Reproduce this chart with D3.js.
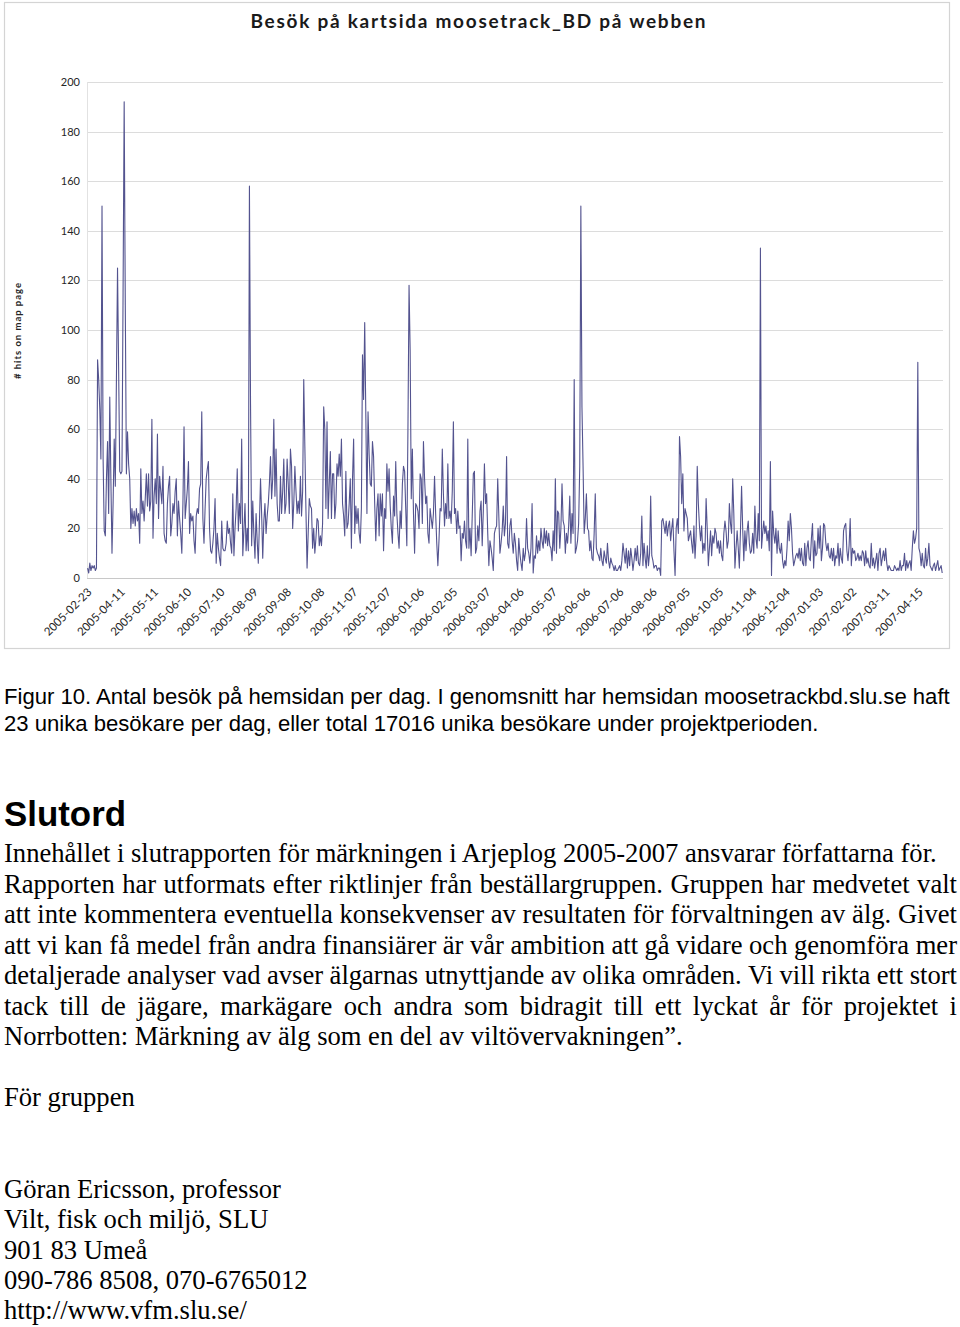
<!DOCTYPE html>
<html><head><meta charset="utf-8">
<script src="https://cdnjs.cloudflare.com/ajax/libs/d3/7.8.5/d3.min.js"></script>
<style>body{margin:0;background:#fff}svg{display:block}</style>
</head><body>
<svg id="c" width="960" height="1327"></svg>
<script>
const xLabels = ["2005-02-23","2005-04-11","2005-05-11","2005-06-10","2005-07-10","2005-08-09","2005-09-08","2005-10-08","2005-11-07","2005-12-07","2006-01-06","2006-02-05","2006-03-07","2006-04-06","2006-05-07","2006-06-06","2006-07-06","2006-08-06","2006-09-05","2006-10-05","2006-11-04","2006-12-04","2007-01-03","2007-02-02","2007-03-11","2007-04-15"];
const labelStep = 30;
const yTicks = [0,20,40,60,80,100,120,140,160,180,200];

const hitsA = [4,2,6,3,5,4,5,3,4,
88,80,68,48,150,48,19,17,40,55,26,
73,40,10,30,56,37,80,125,84,43,
42,43,115,192,110,42,59,46,40,20,
28,22,27,21,28,23,26,14,44,26,
31,23,32,42,29,42,27,31,64,16,
33,40,30,58,24,41,35,30,45,18,
15,14,30,37,41,17,22,30,26,35,
40,17,31,24,18,10,30,61,24,30,
36,47,18,26,23,25,15,10,25,28,
26,36,38,67,24,14,28,40,44,47,
20,11,10,14,20,32,6,18,12,8,
5,23,12,11,11,14,23,18,20,14,
10,34,9,20,28,44,19,30,22,56,
9,19,30,11,20,11,158,70,13,31,
18,8,26,15,6,22,40,26,8,23,
30,18,25,30,38,49,32,40,64,33,
52,30,23,23,41,26,35,48,26,30,
48,38,26,52,45,20,30,45,35,26];

const hitsB = [31,26,41,25,35,80,
53,27,4,18,32,29,
28,12,20,10,16,24,
23,13,17,13,22,69,
60,28,63,24,38,51,
24,42,42,24,30,46,
41,50,41,56,30,25,
17,43,20,22,30,40,
12,40,56,18,29,22,
28,18,14,28,90,
72,103,66,26,67,
50,38,37,55,49,30,
15,28,34,17,34,25,
34,11,28,24,46,35,
44,29,20,14,33,25,
47,26,18,12,27,20,
38,45,43,28,13,
60,118,92,32,52,
26,10,30,29,27,20,
42,40,22,55,40,30,
33,18,14,28,24,20,
26,41,26,14,5,15,
28,27,52,34,21,30,
24,46,24,27,22,35,
63,26,28,18,27,20,
21,7,18,16,23,15,
12,56,12,20,9,25,
42,43,10,12,21,15,
27,31,13,27,46,30,
34,18,5,15,12,8,
3,18,20,21,40,25,
10,14,19,29,17,22,
49,14];

const hitsC = [12,21,24,15,10,18,
14,7,3,16,10,6,
3,12,7,10,24,12,
10,6,12,30,2,9,
8,17,10,15,11,20,
15,12,20,14,19,13,
18,13,12,7,19,11,
40,10,27,26,12,20,
38,23,21,10,18,14,
21,33,14,26,18,80,
10,12,15,22,45,150,
69,45,18,24,34,
20,19,11,15,8,
7,18,34,12,10,9,
7,12,7,5,11,8,
6,14,7,4,8,6,
5,3,5,3,3,4,
5,3,7,14,10,6,
12,4,11,5,12,8,
3,7,12,7,13,6,
5,10,25,5,14,8,
4,13,5,10,33,9,
7,4,5,5,3,4,
4,1,23,24,21,18,
23,17,21,23,15,20,
24,11,1,20,24,18,
57,49,30,42,19,28,
26,24,15,17,19,14,
10,21,8,17,45,30,
21,15,21,10,14,11,
32,20,5,12,19,9,
17,14,20,18,12,15];

const hitsD = [10,15,9,7,18,23,19,12,15,30,22,
18,40,26,4,12,19,
12,4,19,37,20,7,
19,11,19,23,14,10,
11,18,10,29,16,12,
26,15,133,12,18,23,
18,21,15,19,11,
47,1,27,18,14,20,
10,19,12,10,14,7,
4,7,5,12,23,15,
26,20,10,5,7,9,
10,8,12,7,12,6,
5,14,5,12,15,8,
7,16,22,4,15,9,
10,20,12,21,7,12,
22,21,14,11,14,9,
8,12,7,12,5,9,
8,14,5,12,8,6,
19,21,22,11,7,13,
24,5,12,10,11,7,
8,10,7,9,7,11,
10,5,11,6,8,5,
4,14,5,8,4,7,
10,3,10,12,5,8,
11,7,12,6,3,5,
4,3,3,3,5,4,
3,4,3,7,3,5,
5,10,3,7,4,6,
7,3,12,19,14,16,
20,87,12,10,5,
10,5,4,12,5,8,
14,5,4,3,5,6,
3,5,7,3,4,5,
2];

const chartTitle = "Besök på kartsida moosetrack_BD på webben";
const yTitle = "# hits on map page";
const captionLines = [
  "Figur 10. Antal besök på hemsidan per dag. I genomsnitt har hemsidan moosetrackbd.slu.se haft",
  "23 unika besökare per dag, eller total 17016 unika besökare under projektperioden."
];
const heading = "Slutord";
const bodyLines = [
  "Innehållet i slutrapporten för märkningen i Arjeplog 2005-2007 ansvarar författarna för.",
  "Rapporten har utformats efter riktlinjer från beställargruppen. Gruppen har medvetet valt",
  "att inte kommentera eventuella konsekvenser av resultaten för förvaltningen av älg. Givet",
  "att vi kan få medel från andra finansiärer är vår ambition att gå vidare och genomföra mer",
  "detaljerade analyser vad avser älgarnas utnyttjande av olika områden. Vi vill rikta ett stort",
  "tack till de jägare, markägare och andra som bidragit till ett lyckat år för projektet i",
  "Norrbotten: Märkning av älg som en del av viltövervakningen”."
];
const bodyJustify = [false,true,true,true,true,true,false];
const signoff = "För gruppen";
const contactLines = [
  "Göran Ericsson, professor",
  "Vilt, fisk och miljö, SLU",
  "901 83 Umeå",
  "090-786 8508, 070-6765012",
  "http://www.vfm.slu.se/"
];

const hits = hitsA.concat(hitsB, hitsC, hitsD);
const svg = d3.select("#c");
const sans = "Lato, 'Open Sans', sans-serif";
const arial = "'Liberation Sans', Arial, sans-serif";
const serif = "'Liberation Serif', 'Times New Roman', serif";

// chart frame
svg.append("rect").attr("x",4.5).attr("y",2.5).attr("width",945).attr("height",646)
  .attr("fill","#fff").attr("stroke","#d4d4d4").attr("stroke-width",1.2);

const x = d3.scaleLinear().domain([0, hits.length-1]).range([87.6, 942.2]);
const y = d3.scaleLinear().domain([0,200]).range([578,82]);

// gridlines
svg.append("g").selectAll("line").data(yTicks).join("line")
  .attr("x1",87).attr("x2",943)
  .attr("y1",d=>Math.round(y(d))+0.5).attr("y2",d=>Math.round(y(d))+0.5)
  .attr("stroke", d=> d===0 ? "#c8c8c8" : "#dcdcdc").attr("stroke-width",1);
svg.append("line").attr("x1",87.5).attr("x2",87.5).attr("y1",y(200)).attr("y2",y(0))
  .attr("stroke","#e2e2e2");

// y axis labels
const yAxis = d3.axisLeft(y).tickValues(yTicks).tickSize(0).tickPadding(7);
const gy = svg.append("g").attr("transform","translate(87,0)").call(yAxis);
gy.select(".domain").remove();
gy.selectAll("text").attr("font-family",sans).attr("font-size",11).attr("fill","#262626");

// y title
svg.append("text").attr("transform","translate(21,331) rotate(-90)")
  .attr("text-anchor","middle").attr("font-family",sans).attr("font-weight","bold")
  .attr("font-size",9.5).attr("fill","#262626").attr("textLength",96).attr("lengthAdjust","spacing")
  .text(yTitle);

// x labels
svg.append("g").selectAll("text").data(xLabels).join("text")
  .attr("transform",(d,k)=>`translate(${x(k*labelStep)+2},${590}) rotate(-45)`)
  .attr("text-anchor","end").attr("dy","0.35em")
  .attr("font-family",sans).attr("font-size",11.5).attr("fill","#262626")
  .text(d=>d);

// line
svg.append("path").datum(hits)
  .attr("d", d3.line().x((d,i)=>x(i)).y(d=>y(d)))
  .attr("fill","none").attr("stroke","#53538f").attr("stroke-width",1.1)
  .attr("stroke-linejoin","round");

// title
svg.append("text").attr("x",478).attr("y",28).attr("text-anchor","middle")
  .attr("font-family",sans).attr("font-weight","bold").attr("font-size",19)
  .attr("fill","#1a1a1a").attr("textLength",455).attr("lengthAdjust","spacing")
  .text(chartTitle);

function fitSize(sel, target){
  const fs = parseFloat(sel.attr("font-size"));
  const w = sel.node().getComputedTextLength();
  const nfs = fs*target/w;
  sel.attr("font-size", nfs);
  return nfs;
}

// caption
const cap1 = svg.append("text").attr("x",4).attr("y",704).attr("font-family",arial)
  .attr("font-size",20).attr("fill","#000").text(captionLines[0]);
const capFs = fitSize(cap1, 946);
svg.append("text").attr("x",4).attr("y",731).attr("font-family",arial)
  .attr("font-size",capFs).attr("fill","#000").text(captionLines[1]);

// heading
const h = svg.append("text").attr("x",4).attr("y",826).attr("font-family",arial)
  .attr("font-weight","bold").attr("font-size",34).attr("fill","#000").text(heading);
fitSize(h, 122);

// body
const probe = svg.append("text").attr("x",4).attr("y",862).attr("font-family",serif)
  .attr("font-size",26).text(bodyLines[0]);
const bodyFs = fitSize(probe, 933);
probe.remove();
const lineGap = 30.5;
bodyLines.forEach((str, k) => {
  const yy = 862 + k*lineGap;
  const t = svg.append("text").attr("x",4).attr("y",yy).attr("font-family",serif)
    .attr("font-size",bodyFs).attr("fill","#000");
  if (!bodyJustify[k]) { t.text(str); return; }
  const words = str.split(" ");
  const spans = words.map(w => t.append("tspan").attr("y",yy).text(w));
  const widths = spans.map(s => s.node().getComputedTextLength());
  const gap = (953 - d3.sum(widths)) / (words.length - 1);
  let cx = 4;
  spans.forEach((s, j) => { s.attr("x", cx); cx += widths[j] + gap; });
});

svg.append("text").attr("x",4).attr("y",1106).attr("font-family",serif)
  .attr("font-size",bodyFs).attr("fill","#000").text(signoff);

contactLines.forEach((str,k) => {
  svg.append("text").attr("x",4).attr("y",1198 + k*30.3).attr("font-family",serif)
    .attr("font-size",bodyFs).attr("fill","#000").text(str);
});
</script>
</body></html>
